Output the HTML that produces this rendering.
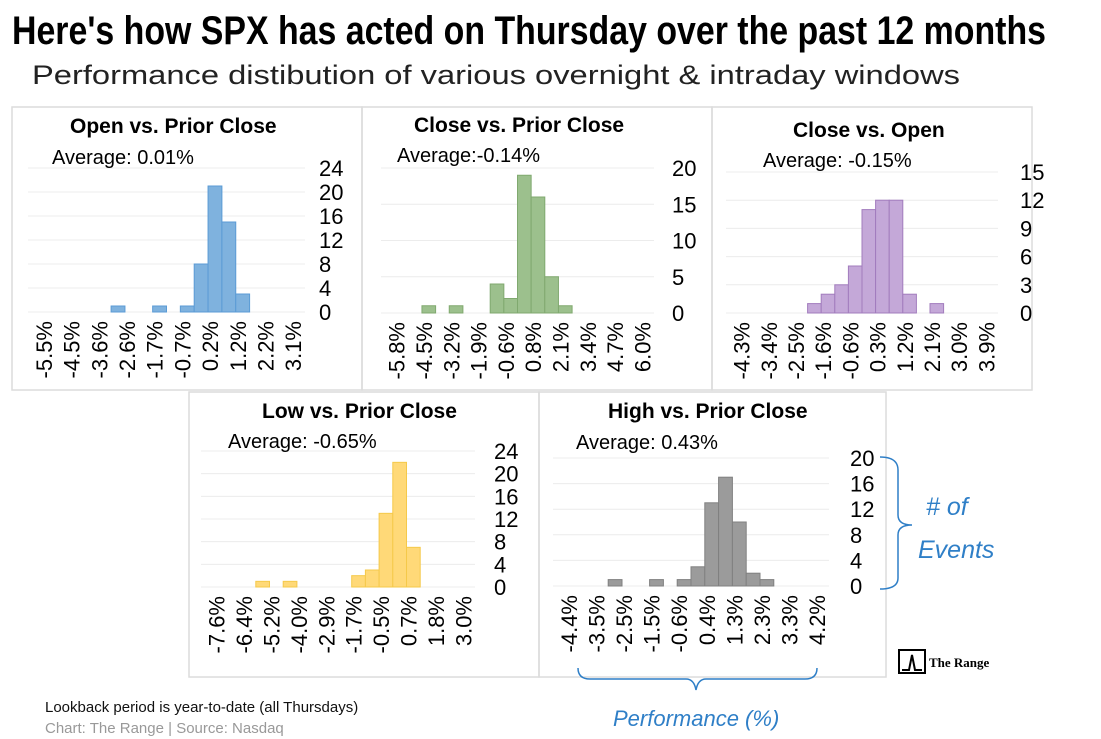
<!DOCTYPE html>
<html><head><meta charset="utf-8"><style>
html,body{margin:0;padding:0;background:#fff;}
svg{display:block;font-family:"Liberation Sans",Arial,sans-serif;}
</style></head><body>
<svg id="c" width="1101" height="739" viewBox="0 0 1101 739">
<text x="12" y="44" font-size="40" font-weight="bold" textLength="1034" lengthAdjust="spacingAndGlyphs" font-family="Liberation Sans Narrow, Liberation Sans, sans-serif">Here's how SPX has acted on Thursday over the past 12 months</text>
<text x="32" y="84" font-size="27" fill="#222" textLength="928" lengthAdjust="spacingAndGlyphs">Performance distibution of various overnight &amp; intraday windows</text>
<g id="panels"></g>
<g fill="none" stroke="#2f7fc7" stroke-width="1.5">
<path d="M880 457 Q898 457 898 470 L898 515 Q898 525 912 525 Q898 525 898 535 L898 578 Q898 589 880 589"/>
<path d="M578 668 Q578 679 590 679 L686 679 Q694 679 696 690 Q698 679 706 679 L805 679 Q817 679 817 668"/>
</g>
<text x="926" y="515" font-size="25" font-style="italic" fill="#2f7fc7"># of</text>
<text x="918" y="558" font-size="25" font-style="italic" fill="#2f7fc7">Events</text>
<text x="613" y="726" font-size="22" font-style="italic" fill="#2f7fc7">Performance (%)</text>
<g>
<rect x="899" y="650" width="26" height="23" fill="#fff" stroke="#000" stroke-width="2"/>
<path d="M902 670 L909 670 L912 655 L915 670 L922 670" stroke="#000" stroke-width="2" fill="none"/>
<text x="929" y="667" font-size="13" font-weight="bold" font-family="Liberation Serif, serif">The Range</text>
</g>
<text x="45" y="712" font-size="15" fill="#111">Lookback period is year-to-date (all Thursdays)</text>
<text x="45" y="733" font-size="15" fill="#999">Chart: The Range | Source: Nasdaq</text>
</svg>
<script>
// panel data
const titles = ["Open vs. Prior Close","Close vs. Prior Close","Close vs. Open","Low vs. Prior Close","High vs. Prior Close"];
const averages = ["Average: 0.01%","Average:-0.14%","Average:  -0.15%","Average: -0.65%","Average: 0.43%"];
const countsOpen = [0,0,0,0,0,0,1,0,0,1,0,1,8,21,15,3,0,0,0,0];
const countsClosePrior = [0,0,0,1,0,1,0,0,4,2,19,16,5,1,0,0,0,0,0,0];
const countsCloseOpen = [0,0,0,0,0,0,1,2,3,5,11,12,12,2,0,1,0,0,0,0];
const countsLow = [0,0,0,0,1,0,1,0,0,0,0,2,3,13,22,7,0,0,0,0];
const countsHigh = [0,0,0,0,1,0,0,1,0,1,3,13,17,10,2,1,0,0,0,0];
const ticksOpen = ["-5.5%","-4.5%","-3.6%","-2.6%","-1.7%","-0.7%","0.2%","1.2%","2.2%","3.1%"];
const ticksClosePrior = ["-5.8%","-4.5%","-3.2%","-1.9%","-0.6%","0.8%","2.1%","3.4%","4.7%","6.0%"];
const ticksCloseOpen = ["-4.3%","-3.4%","-2.5%","-1.6%","-0.6%","0.3%","1.2%","2.1%","3.0%","3.9%"];
const ticksLow = ["-7.6%","-6.4%","-5.2%","-4.0%","-2.9%","-1.7%","-0.5%","0.7%","1.8%","3.0%"];
const ticksHigh = ["-4.4%","-3.5%","-2.5%","-1.5%","-0.6%","0.4%","1.3%","2.3%","3.3%","4.2%"];
const yMaxes = [24,20,15,24,20];
const yStepsArr = [4,5,3,4,4];

const counts=[countsOpen,countsClosePrior,countsCloseOpen,countsLow,countsHigh];
const ticks=[ticksOpen,ticksClosePrior,ticksCloseOpen,ticksLow,ticksHigh];
const layout=[
 {bx:12,by:107,bw:350,bh:283,l:28,r:305,b:312,t:168,ly:14,tx:70,ty:133,ax:52,ay:164,fill:"#7fb2de",stroke:"#5b9bd5"},
 {bx:362,by:107,bw:350,bh:283,l:381,r:654,b:313,t:168,ly:18,tx:414,ty:132,ax:397,ay:162,fill:"#9cc08d",stroke:"#80a96f"},
 {bx:712,by:107,bw:320,bh:283,l:726,r:998,b:313,t:172,ly:22,tx:793,ty:137,ax:763,ay:167,fill:"#c4a8d8",stroke:"#a27cbd"},
 {bx:189,by:392,bw:350,bh:285,l:201,r:475,b:587,t:451,ly:19,tx:262,ty:418,ax:228,ay:448,fill:"#ffd978",stroke:"#f5c94a"},
 {bx:539,by:392,bw:347,bh:285,l:553,r:829,b:586,t:458,ly:21,tx:608,ty:418,ax:576,ay:449,fill:"#9b9b9b",stroke:"#808080"}
];
const NS="http://www.w3.org/2000/svg";
const root=document.getElementById('panels');
function mk(tag,attrs,parent){const e=document.createElementNS(NS,tag);for(const k in attrs)e.setAttribute(k,attrs[k]);parent.appendChild(e);return e;}
layout.forEach((L,p)=>{
 const g=mk('g',{},root);
 
 
 const frame=mk('rect',{x:L.bx,y:L.by,width:L.bw,height:L.bh,fill:'none',stroke:'#dcdcdc','stroke-width':1.5},g);
 
 
 const yMax=yMaxes[p], step=yStepsArr[p];
 const yS=v=>L.b-(v/yMax)*(L.b-L.t);
 const n=counts[p].length, bwid=(L.r-L.l)/n;
 const xS=i=>L.l+i*bwid;
 for(let v=0;v<=yMax;v+=step){
  const gl=mk('line',{x1:L.l,x2:L.r,y1:yS(v),y2:yS(v),stroke:'#ececec','stroke-width':1},g);
  
  
  const tl=mk('text',{x:L.r+L.ly,y:yS(v)+8,'font-size':22,fill:'#000'},g);
  tl.textContent=v;
  
  
 }
 counts[p].forEach((c,i)=>{
  if(c<=0)return;
  const r=mk('rect',{x:xS(i),y:yS(c),width:bwid,height:L.b-yS(c),fill:L.fill,stroke:L.stroke,'stroke-width':1},g);
  
  
 });
 ticks[p].forEach((t,k)=>{
  const cx=xS(2*k+1)+3+7;
  const tt=mk('text',{x:0,y:0,'font-size':22,'text-anchor':'end',transform:`translate(${cx},${L.b+9}) rotate(-90)`},g);
  tt.textContent=t;
  
  
 });
 const ti=mk('text',{x:L.tx,y:L.ty,'font-size':21,'font-weight':'bold'},g);
 ti.textContent=titles[p];
 
 
 const av=mk('text',{x:L.ax,y:L.ay,'font-size':20,'xml:space':'preserve'},g);
 av.textContent=averages[p];
 
 
});
</script>
</body></html>
